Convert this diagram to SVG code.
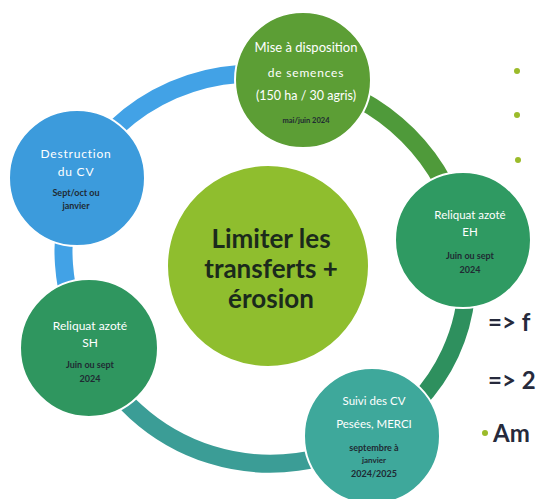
<svg xmlns="http://www.w3.org/2000/svg" width="537" height="499" viewBox="0 0 537 499">
<style>
.arc{fill:none;stroke-width:18;stroke-linecap:butt}
.node{stroke:#ffffff;stroke-width:2}
.w{font-family:Lato,"Liberation Sans",sans-serif;fill:#ffffff;text-anchor:middle}
.d{font-family:Lato,"Liberation Sans",sans-serif;fill:#1f2a33;font-weight:bold;text-anchor:middle}
.big{font-family:Lato,"Liberation Sans",sans-serif;fill:#1b2a1c;font-weight:bold;text-anchor:middle;font-size:26px}
.side{font-family:Lato,"Liberation Sans",sans-serif;fill:#262a3c;font-weight:bold;font-size:24px}
.dot{fill:#9bbb2a}
</style>
<rect width="537" height="499" fill="#ffffff"/>
<g id="connectors">
<path class="arc" stroke="#42a2e6" d="M303,80 A200,200 0 0 0 77,178"/>
<path class="arc" stroke="#42a2e6" d="M77,178 A200,200 0 0 0 89,348"/>
<path class="arc" stroke="#3b9d96" d="M89,348 A200,200 0 0 0 372,436"/>
<path class="arc" stroke="#2e905e" d="M372,436 A180,180 0 0 0 463,240"/>
<path class="arc" stroke="#4f9a3a" d="M463,240 A200,200 0 0 0 303,80"/>
</g>
<g id="center">
<circle class="node" cx="268" cy="266" r="101" fill="#8fbe2e"/>
<text class="big" x="271" y="248">Limiter les</text>
<text class="big" x="271" y="278">transferts +</text>
<text class="big" x="271" y="308">érosion</text>
</g>
<g id="node-mise">
<circle class="node" cx="303" cy="80" r="68" fill="#5c9e35"/>
<text class="w" x="306" y="52" font-size="13">Mise à disposition</text>
<text class="w" x="306" y="77" font-size="12" letter-spacing="0.8">de semences</text>
<text class="w" x="306" y="100" font-size="12.5">(150 ha / 30 agris)</text>
<text class="d" x="306" y="123" font-size="7.5">mai/juin 2024</text>
</g>
<g id="node-destruction">
<circle class="node" cx="77" cy="178" r="68" fill="#3c9bdc"/>
<text class="w" x="76" y="158" font-size="12" letter-spacing="0.8">Destruction</text>
<text class="w" x="76" y="176" font-size="12" letter-spacing="0.8">du CV</text>
<text class="d" x="76" y="196" font-size="9">Sept/oct ou</text>
<text class="d" x="76" y="209" font-size="9">janvier</text>
</g>
<g id="node-eh">
<circle class="node" cx="463" cy="240" r="68" fill="#2f9a62"/>
<text class="w" x="470" y="219" font-size="11.5">Reliquat azoté</text>
<text class="w" x="470" y="236" font-size="11.5">EH</text>
<text class="d" x="470" y="259" font-size="9">Juin ou sept</text>
<text class="d" x="470" y="273" font-size="9">2024</text>
</g>
<g id="node-sh">
<circle class="node" cx="89" cy="348" r="69" fill="#2f965f"/>
<text class="w" x="90" y="330" font-size="12">Reliquat azoté</text>
<text class="w" x="90" y="347" font-size="12">SH</text>
<text class="d" x="90" y="368" font-size="9">Juin ou sept</text>
<text class="d" x="90" y="382" font-size="9">2024</text>
</g>
<g id="node-suivi">
<circle class="node" cx="372" cy="436" r="68" fill="#3ea89b"/>
<text class="w" x="374" y="405" font-size="11.5">Suivi des CV</text>
<text class="w" x="374" y="428" font-size="11.5">Pesées, MERCI</text>
<text class="d" x="374" y="451" font-size="9">septembre à</text>
<text class="d" x="374" y="463" font-size="8" font-weight="normal">janvier</text>
<text class="d" x="374" y="477" font-size="9">2024/2025</text>
</g>
<g id="side-text">
<circle class="dot" cx="517" cy="71" r="3"/>
<circle class="dot" cx="517" cy="115" r="3"/>
<circle class="dot" cx="518" cy="160" r="3"/>
<text class="side" x="488" y="331">=&gt; f</text>
<text class="side" x="488" y="389">=&gt; 2</text>
<circle class="dot" cx="485" cy="433" r="3"/>
<text class="side" x="493" y="442">Am</text>
</g>
</svg>
